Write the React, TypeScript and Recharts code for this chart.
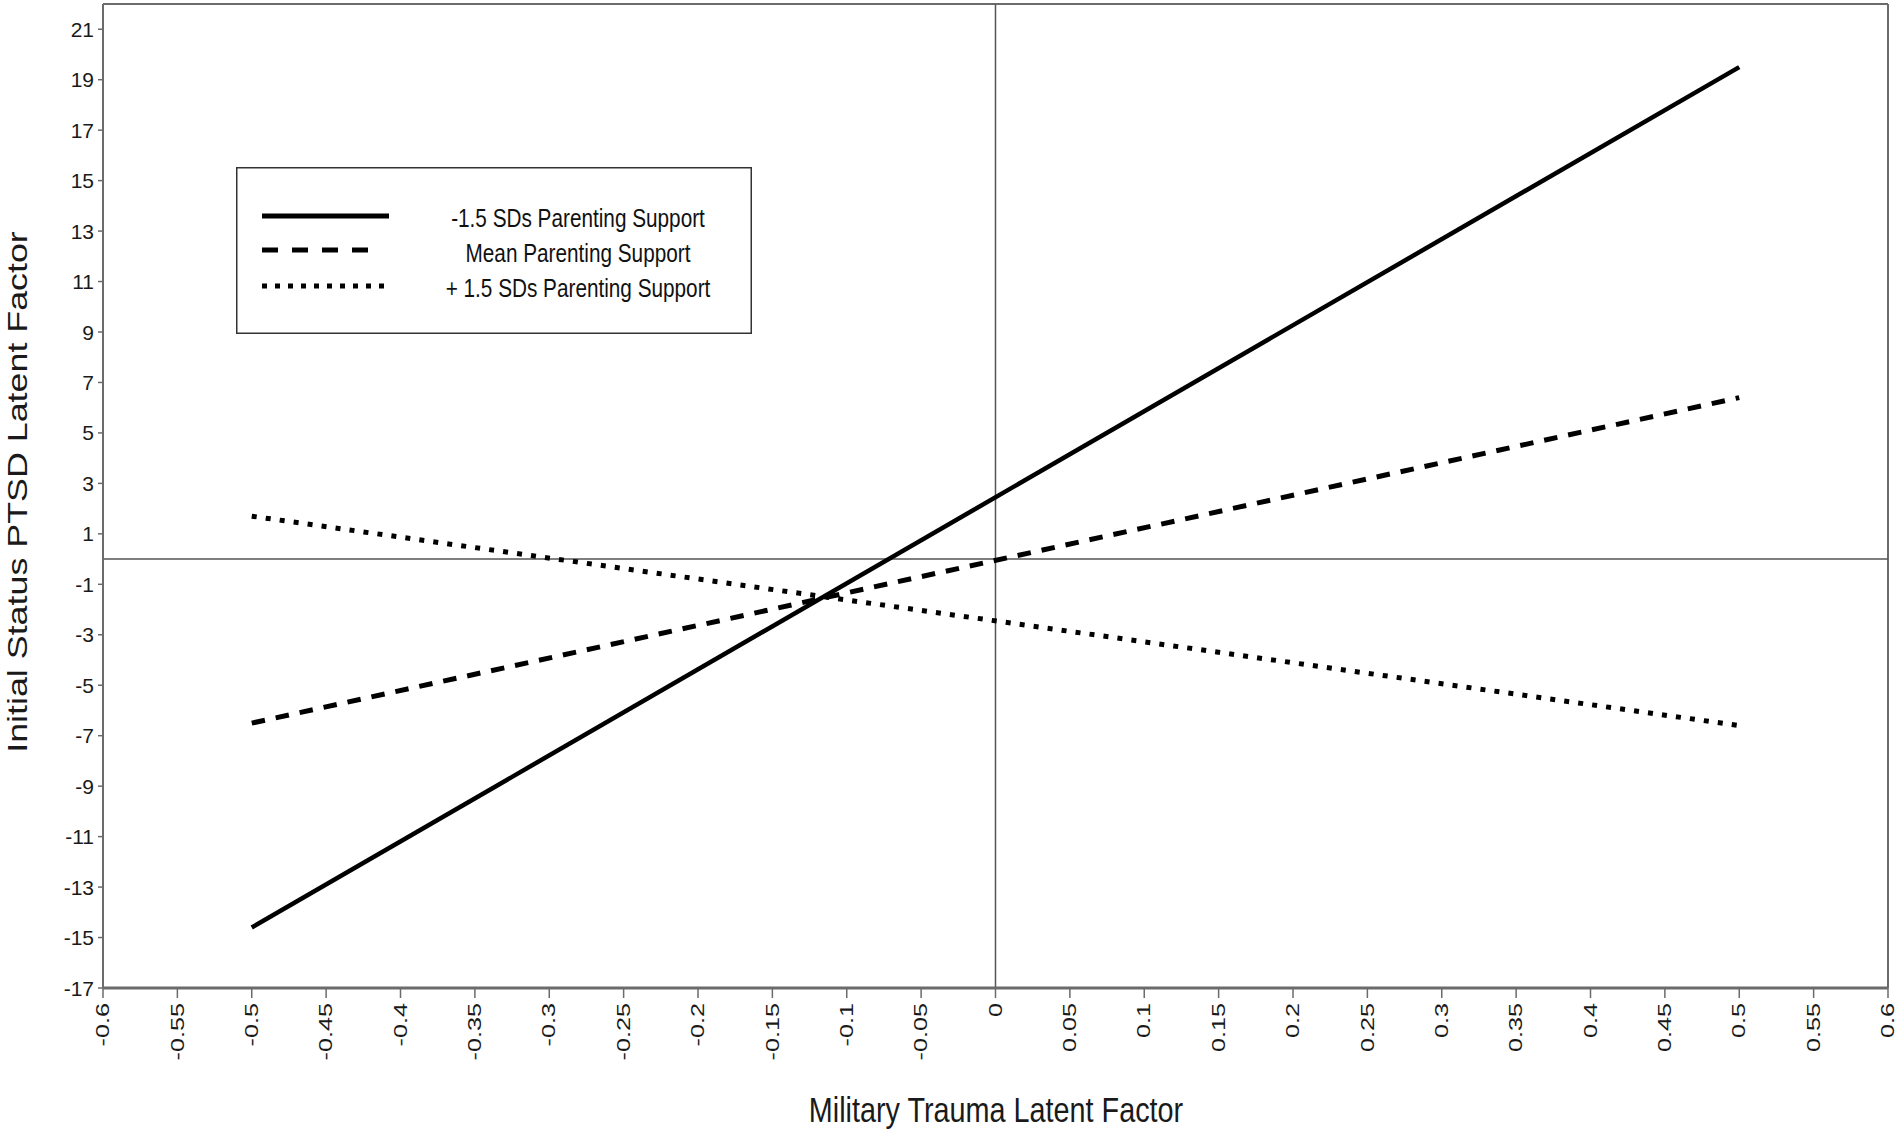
import React from "react"
import { LineChart, Line, XAxis, YAxis, ReferenceLine, Label } from "recharts"

// x values where each simple slope is evaluated
const traumaLevels = [-0.5, 0.5]
// predicted PTSD initial status per parenting support level
const lowSupport = [-14.6, 19.5]
const meanSupport = [-6.5, 6.4]
const highSupport = [1.7, -6.6]

const seriesNames = ["-1.5 SDs Parenting Support", "Mean Parenting Support", "+ 1.5 SDs Parenting Support"]

const xTicks = [
  -0.6, -0.55, -0.5, -0.45, -0.4, -0.35, -0.3, -0.25, -0.2, -0.15, -0.1, -0.05, 0,
  0.05, 0.1, 0.15, 0.2, 0.25, 0.3, 0.35, 0.4, 0.45, 0.5, 0.55, 0.6,
]
const yTicks = [21, 19, 17, 15, 13, 11, 9, 7, 5, 3, 1, -1, -3, -5, -7, -9, -11, -13, -15, -17]

const chartData = traumaLevels.map((x, i) => ({
  x,
  low: lowSupport[i],
  mean: meanSupport[i],
  high: highSupport[i],
}))

const FONT = "Arial, 'Liberation Sans', sans-serif"
const AXIS_GREY = "#6b6b6b"

function XTick(props: any) {
  const { x, y, payload } = props
  return (
    <g transform={`translate(${x},${y + 3}) rotate(-90) scale(1.4,1)`}>
      <text x={0} y={0} textAnchor="end" dominantBaseline="central" fontSize={18} fontFamily={FONT} fill="#1a1a1a">
        {String(payload.value)}
      </text>
    </g>
  )
}

function YTick(props: any) {
  const { x, y, payload } = props
  return (
    <text x={x} y={y} textAnchor="end" dominantBaseline="central" fontSize={21} fontFamily={FONT} fill="#1a1a1a">
      {String(payload.value)}
    </text>
  )
}

// the original uses a narrow face, so squeeze the text horizontally
function NarrowText({ x, y, children }: { x: number; y: number; children: React.ReactNode }) {
  return (
    <g transform={`translate(${x},${y}) scale(0.83,1)`}>
      <text x={0} y={0} textAnchor="middle" fontSize={25} fontFamily={FONT} fill="#111">
        {children}
      </text>
    </g>
  )
}

// legend drawn on its own, placed over the plot like the original
function LegendBox() {
  const textX = 342
  return (
    <svg width={516} height={167} style={{ display: "block" }}>
      <rect x={0.75} y={0.75} width={514.5} height={165.5} fill="#fff" stroke="#333" strokeWidth={1.5} />
      <line x1={26} x2={153} y1={49} y2={49} stroke="#000" strokeWidth={5} />
      <line x1={26} x2={138} y1={83} y2={83} stroke="#000" strokeWidth={5} strokeDasharray="16 14" />
      <line x1={26} x2={153} y1={119} y2={119} stroke="#000" strokeWidth={5} strokeDasharray="5 8" />
      <NarrowText x={textX} y={60}>{seriesNames[0]}</NarrowText>
      <NarrowText x={textX} y={95}>{seriesNames[1]}</NarrowText>
      <NarrowText x={textX} y={130}>{seriesNames[2]}</NarrowText>
    </svg>
  )
}

export default function App() {
  return (
    <div style={{ position: "absolute", left: 0, top: 0, width: 1900, height: 1131, background: "#fff" }}>
      <LineChart width={1900} height={1131} data={chartData} margin={{ top: 4, right: 12, bottom: 43, left: 43 }}>
        <XAxis
          type="number"
          dataKey="x"
          domain={[-0.6, 0.6]}
          ticks={xTicks}
          interval={0}
          height={100}
          tick={<XTick />}
          tickSize={10}
          tickLine={{ stroke: AXIS_GREY, strokeWidth: 1.5 }}
          axisLine={{ stroke: AXIS_GREY, strokeWidth: 3 }}
        >
          <Label
            content={() => (
              <g transform="translate(996,1122) scale(0.8,1)">
                <text x={0} y={0} textAnchor="middle" fontSize={36} fontFamily={FONT} fill="#1a1a1a">
                  Military Trauma Latent Factor
                </text>
              </g>
            )}
          />
        </XAxis>
        <YAxis
          type="number"
          domain={[-17, 22]}
          ticks={yTicks}
          interval={0}
          width={60}
          tick={<YTick />}
          tickSize={5}
          tickMargin={4}
          tickLine={{ stroke: AXIS_GREY, strokeWidth: 1.5 }}
          axisLine={{ stroke: AXIS_GREY, strokeWidth: 2 }}
        >
          <Label
            content={() => (
              <g transform="translate(27,492) rotate(-90) scale(1.28,1)">
                <text x={0} y={0} textAnchor="middle" fontSize={28} fontFamily={FONT} fill="#1a1a1a">
                  Initial Status PTSD Latent Factor
                </text>
              </g>
            )}
          />
        </YAxis>
        <ReferenceLine y={22} stroke={AXIS_GREY} strokeWidth={2} />
        <ReferenceLine x={0.6} stroke={AXIS_GREY} strokeWidth={2} />
        <ReferenceLine y={0} stroke="#555" strokeWidth={1.5} />
        <ReferenceLine x={0} stroke="#555" strokeWidth={1.5} />
        <Line
          dataKey="low"
          name={seriesNames[0]}
          type="linear"
          stroke="#000"
          strokeWidth={4.5}
          dot={false}
          activeDot={false}
          isAnimationActive={false}
        />
        <Line
          dataKey="mean"
          name={seriesNames[1]}
          type="linear"
          stroke="#000"
          strokeWidth={5}
          strokeDasharray="13.5 11"
          dot={false}
          activeDot={false}
          isAnimationActive={false}
        />
        <Line
          dataKey="high"
          name={seriesNames[2]}
          type="linear"
          stroke="#000"
          strokeWidth={5}
          strokeDasharray="5 9.1"
          dot={false}
          activeDot={false}
          isAnimationActive={false}
        />
      </LineChart>
      <div style={{ position: "absolute", left: 236, top: 167, width: 516, height: 167 }}>
        <LegendBox />
      </div>
    </div>
  )
}
